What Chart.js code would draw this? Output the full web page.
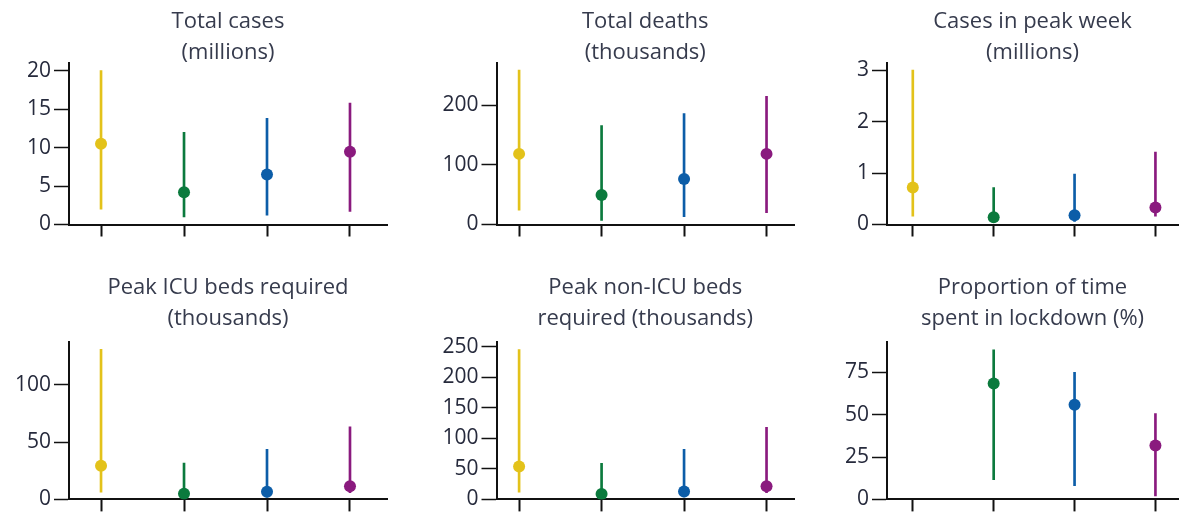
<!DOCTYPE html>
<html>
<head>
<meta charset="utf-8">
<script src="https://cdn.jsdelivr.net/npm/chart.js@4.4.1/dist/chart.umd.min.js"></script>
<style>
  html, body { margin: 0; padding: 0; background: #fff; overflow: hidden; }
  body { width: 1184px; height: 515px; position: relative; }
  canvas { position: absolute; }
</style>
</head>
<body>
<canvas id="p0"></canvas>
<canvas id="p1"></canvas>
<canvas id="p2"></canvas>
<canvas id="p3"></canvas>
<canvas id="p4"></canvas>
<canvas id="p5"></canvas>
<script>
// Four strategies, shown left to right in every panel
var categories = ['Strategy 1', 'Strategy 2', 'Strategy 3', 'Strategy 4'];
var seriesColors = ['#E3C21A', '#0B7A3D', '#0C5DA8', '#8A1A7E'];

// Total cases (millions)
var casesMid = [10.5, 4.2, 6.5, 9.45];
var casesLow = [2.0, 1.0, 1.2, 1.7];
var casesHigh = [20.0, 12.0, 13.8, 15.8];
var casesTicks = [0, 5, 10, 15, 20];

// Total deaths (thousands)
var deathsMid = [118.5, 49.5, 76.5, 118.5];
var deathsLow = [24, 7, 13, 20];
var deathsHigh = [259, 166, 186, 215];
var deathsTicks = [0, 100, 200];

// Cases in peak week (millions)
var peakWeekMid = [0.72, 0.14, 0.18, 0.33];
var peakWeekLow = [0.16, 0.04, 0.06, 0.16];
var peakWeekHigh = [3.0, 0.72, 0.98, 1.41];
var peakWeekTicks = [0, 1, 2, 3];

// Peak ICU beds required (thousands)
var icuMid = [29.3, 4.9, 6.6, 11.5];
var icuLow = [6.4, 1.0, 2.0, 5.8];
var icuHigh = [130.8, 31.6, 43.7, 63.3];
var icuTicks = [0, 50, 100];

// Peak non-ICU beds required (thousands)
var wardMid = [54, 9, 13, 21.6];
var wardLow = [12, 2, 4, 11];
var wardHigh = [245, 59, 82, 118];
var wardTicks = [0, 50, 100, 150, 200, 250];

// Proportion of time spent in lockdown (%)
var lockdownMid = [null, 68.4, 55.8, 31.8];
var lockdownLow = [null, 11.6, 8.1, 2.0];
var lockdownHigh = [null, 88.2, 75.0, 50.6];
var lockdownTicks = [0, 25, 50, 75];

var panels = [
  { title: ['Total cases', '(millions)'], mid: casesMid, low: casesLow, high: casesHigh, ticks: casesTicks, yMax: 21 },
  { title: ['Total deaths', '(thousands)'], mid: deathsMid, low: deathsLow, high: deathsHigh, ticks: deathsTicks, yMax: 271 },
  { title: ['Cases in peak week', '(millions)'], mid: peakWeekMid, low: peakWeekLow, high: peakWeekHigh, ticks: peakWeekTicks, yMax: 3.14 },
  { title: ['Peak ICU beds required', '(thousands)'], mid: icuMid, low: icuLow, high: icuHigh, ticks: icuTicks, yMax: 137 },
  { title: ['Peak non-ICU beds', 'required (thousands)'], mid: wardMid, low: wardLow, high: wardHigh, ticks: wardTicks, yMax: 257 },
  { title: ['Proportion of time', 'spent in lockdown (%)'], mid: lockdownMid, low: lockdownLow, high: lockdownHigh, ticks: lockdownTicks, yMax: 92.7 }
];

// page layout of the 3 x 2 grid
var columns = [
  { left: 0, width: 400, axisLeft: 69, axisRight: 387, xMin: 0.614, xMax: 4.446 },
  { left: 400, width: 400, axisLeft: 96.5, axisRight: 396.7, xMin: 0.726, xMax: 4.333 },
  { left: 800, width: 384, axisLeft: 87, axisRight: 384, xMin: 0.681, xMax: 4.279 }
];
var rows = [
  { top: 0, height: 250, axisTop: 63, axisBottom: 224.5, titleY: 22 },
  { top: 265, height: 250, axisTop: 77.3, axisBottom: 236.7, titleY: 22.5 }
];

var FONT = '"Open Sans", "DejaVu Sans", sans-serif';
var TICK_LEN_X = 12;

// two-line title centred over the plot area
var panelTitle = {
  id: 'panelTitle',
  afterDraw: function(chart, args, opts) {
    var ctx = chart.ctx;
    var area = chart.chartArea;
    var cx = (area.left + area.right) / 2;
    ctx.save();
    ctx.font = '22px ' + FONT;
    ctx.fillStyle = '#363b4d';
    ctx.textAlign = 'center';
    ctx.textBaseline = 'middle';
    opts.lines.forEach(function(line, i) {
      ctx.fillText(line, cx, opts.y + i * 31);
    });
    ctx.restore();
  }
};

panels.forEach(function(p, idx) {
  var col = columns[idx % 3];
  var row = rows[Math.floor(idx / 3)];
  var canvas = document.getElementById('p' + idx);
  canvas.width = col.width;
  canvas.height = row.height;
  canvas.style.left = col.left + 'px';
  canvas.style.top = row.top + 'px';
  canvas.style.width = col.width + 'px';
  canvas.style.height = row.height + 'px';

  var ranges = [];
  var points = [];
  var barColors = [];
  var pointColors = [];
  categories.forEach(function(c, i) {
    if (p.mid[i] === null) return;
    ranges.push({ x: i + 1, y: [p.low[i], p.high[i]] });
    points.push({ x: i + 1, y: p.mid[i] });
    barColors.push(seriesColors[i]);
    pointColors.push(seriesColors[i]);
  });

  new Chart(canvas, {
    type: 'bar',
    data: {
      datasets: [{
        type: 'bar',
        data: ranges,
        backgroundColor: barColors,
        borderWidth: 0,
        barThickness: 2,
        order: 2
      }, {
        type: 'scatter',
        data: points,
        pointBackgroundColor: pointColors,
        pointBorderWidth: 0,
        pointRadius: 6,
        order: 1
      }]
    },
    options: {
      responsive: false,
      animation: false,
      devicePixelRatio: 1,
      layout: {
        padding: {
          left: 0,
          right: col.width - col.axisRight,
          top: row.axisTop,
          bottom: row.height - row.axisBottom - TICK_LEN_X
        }
      },
      plugins: {
        legend: { display: false },
        tooltip: { enabled: false },
        panelTitle: { lines: p.title, y: row.titleY }
      },
      scales: {
        x: {
          type: 'linear',
          min: col.xMin,
          max: col.xMax,
          offset: false,
          afterBuildTicks: function(scale) {
            scale.ticks = categories.map(function(c, i) { return { value: i + 1 }; });
          },
          afterFit: function(scale) { scale.height = TICK_LEN_X; },
          ticks: { display: false },
          grid: {
            offset: false,
            drawOnChartArea: false,
            drawTicks: true,
            tickLength: TICK_LEN_X,
            tickColor: '#111',
            tickWidth: 2
          },
          border: { display: true, color: '#111', width: 2 }
        },
        y: {
          min: 0,
          max: p.yMax,
          afterBuildTicks: function(scale) {
            scale.ticks = p.ticks.map(function(v) { return { value: v }; });
          },
          afterFit: function(scale) { scale.width = col.axisLeft; },
          ticks: {
            color: '#262a3c',
            padding: 3,
            font: { family: FONT, size: 21 }
          },
          grid: {
            drawOnChartArea: false,
            drawTicks: true,
            tickLength: 15,
            tickColor: '#111',
            tickWidth: 1.5
          },
          border: { display: true, color: '#111', width: 2 }
        }
      }
    },
    plugins: [panelTitle]
  });
});
</script>
</body>
</html>
